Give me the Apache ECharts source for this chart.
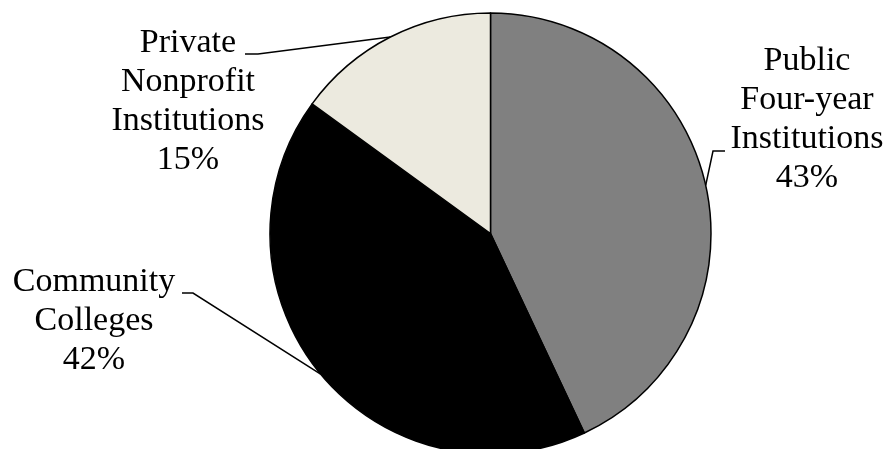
<!DOCTYPE html>
<html>
<head>
<meta charset="utf-8">
<script src="https://cdn.jsdelivr.net/npm/echarts@6/dist/echarts.min.js"></script>
<style>
  html, body { margin: 0; padding: 0; background: #fff; }
  #chart { width: 889px; height: 449px; }
</style>
</head>
<body>
<div id="chart"></div>
<script>
// Share of enrollment by institution type (percent)
const categories = [
  'Public\nFour-year\nInstitutions',
  'Community\nColleges',
  'Private\nNonprofit\nInstitutions'
];
const shares = [43, 42, 15];
const sliceColors = ['#808080', '#000000', '#ECEADF'];

// Label block placement and leader-line elbows, per slice
const labelSpots = [
  { x: 807, y: 120, elbow: [713, 151], end: [725, 151] },
  { x: 94, y: 321, elbow: [193, 293], end: [182, 293] },
  { x: 188, y: 102, elbow: [258, 54], end: [245, 54] }
];

const chart = echarts.init(document.getElementById('chart'));
chart.setOption({
  animation: false,
  backgroundColor: '#ffffff',
  series: [{
    type: 'pie',
    center: [490.5, 233.5],
    radius: 220.5,
    startAngle: 90,
    clockwise: true,
    avoidLabelOverlap: false,
    emphasis: { disabled: true },
    data: categories.map((name, i) => ({
      name: name,
      value: shares[i],
      itemStyle: { color: sliceColors[i] }
    })),
    itemStyle: { borderColor: '#000000', borderWidth: 1.5 },
    label: {
      show: true,
      position: 'outside',
      formatter: '{b}\n{c}%',
      fontFamily: '"Liberation Serif", "Times New Roman", serif',
      fontSize: 34,
      lineHeight: 39,
      color: '#000000',
      align: 'center'
    },
    labelLine: {
      show: true,
      lineStyle: { color: '#000000', width: 1.5 }
    },
    labelLayout: function (params) {
      const spot = labelSpots[params.dataIndex];
      const start = params.labelLinePoints ? params.labelLinePoints[0] : spot.elbow;
      return {
        x: spot.x,
        y: spot.y,
        align: 'center',
        verticalAlign: 'middle',
        labelLinePoints: [start, spot.elbow, spot.end]
      };
    }
  }]
});
</script>
</body>
</html>
